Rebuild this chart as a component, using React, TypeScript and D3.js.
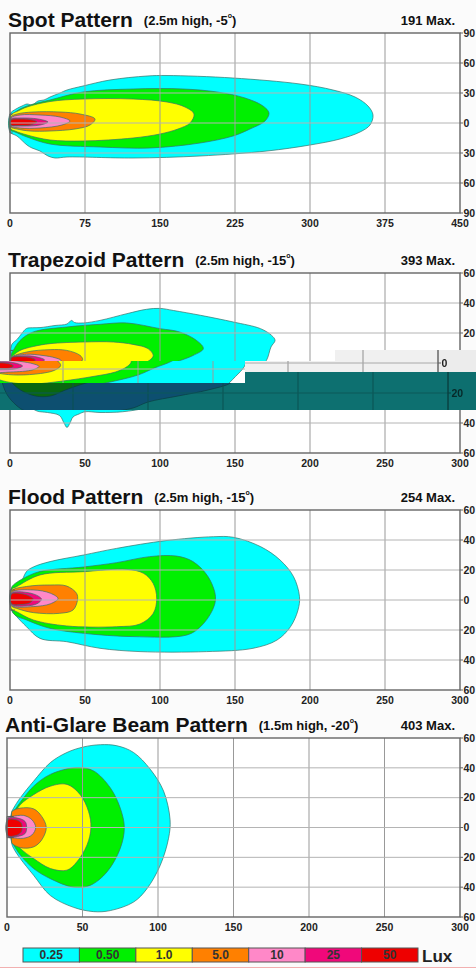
import React from 'react';
import * as d3 from 'd3';

type Pt = [number, number];

const levelLabels = ['0.25', '0.50', '1.0', '5.0', '10', '25', '50'];
const levelColors = ['#00ffff', '#00f000', '#ffff00', '#ff8000', '#ff88c8', '#f0087a', '#ee0000'];

const spotXTicks = [0, 75, 150, 225, 300, 375, 450];
const spotYTicks = [90, 60, 30, 0, -30, -60, -90];
const beamXTicks = [0, 50, 100, 150, 200, 250, 300];
const beamYTicks = [60, 40, 20, 0, -20, -40, -60];

const panelTitles = ['Spot Pattern', 'Trapezoid Pattern', 'Flood Pattern', 'Anti-Glare Beam Pattern'];
const panelHeights = ['2.5m', '2.5m', '2.5m', '1.5m'];
const panelAngles = ['-5', '-15', '-15', '-20'];
const panelMax = [191, 393, 254, 403];

// lamp stub: [x0,yTop],[x1,yBottom]
const spotLamp: Pt[] = [[0, 9], [2.7, -10]];
const trapLamp: Pt[] = [[0, 8.4], [2.2, -1]];
const floodLamp: Pt[] = [[0, 6.7], [3.3, -6.7]];
const antiLamp: Pt[] = [[0, 7.4], [4.4, -6.8]];

// ---------- Spot Pattern contours (m, m) ----------
const spotCyan: Pt[] = [[0, 9], [6, 14], [12, 17], [17, 19], [22, 18], [28, 22], [34, 23], [40, 26], [50, 30], [57, 33], [73, 37], [100, 43], [137, 47], [157, 47.5], [223, 45], [290, 39], [323, 33], [345, 26], [358, 17], [363, 8], [360, -2], [350, -9], [330, -16], [300, -22], [257, -28], [190, -33], [123, -35], [57, -34], [45, -35], [38, -33], [30, -28], [22, -25], [17, -22], [7, -13], [0, -9]];
const spotGreen: Pt[] = [[0, 7], [4, 10], [10, 14], [20, 18], [40, 23], [73, 31], [123, 34], [173, 34], [207, 31], [235, 25], [253, 17], [259, 10], [255, 2], [240, -6], [223, -13], [190, -20], [140, -25], [90, -24], [40, -21], [17, -14], [5, -9], [0, -7]];
const spotYellow: Pt[] = [[1, 8], [8, 12], [17, 16], [40, 21.5], [73, 24], [123, 24], [157, 21], [175, 16], [184, 9], [180, 0], [168, -6], [150, -11], [123, -15], [73, -18], [40, -17], [17, -12], [5, -8], [1, -6]];
const spotOrange: Pt[] = [[1, 6], [7, 9], [23, 11], [50, 11], [70, 9], [85, 4], [80, -2], [65, -6], [40, -8], [20, -8], [7, -6], [1, -4]];
const spotPink: Pt[] = [[1, 5], [10, 8], [30, 8], [50, 6], [60, 2], [52, -2], [30, -5], [10, -5], [1, -3]];
const spotMagenta: Pt[] = [[1, 4], [10, 5], [28, 4], [38, 1], [30, -2], [12, -3], [1, -2]];
const spotRed: Pt[] = [[1, 3], [8, 4], [20, 3.5], [27, 1], [20, -2], [8, -2.5], [1, -2]];
const spotContours = [spotCyan, spotGreen, spotYellow, spotOrange, spotPink, spotMagenta, spotRed];

// ---------- Trapezoid Pattern contours ----------
const trapCyan: Pt[] = [[1, 12], [5, 16], [7.8, 19.6], [11, 23], [15, 23.5], [20, 23.6], [30, 25], [38, 26], [41, 28.4], [43, 27], [49, 26.7], [60, 28.4], [78, 32.9], [91, 35.8], [100, 36.4], [109, 35], [127, 31.8], [149, 27.3], [167, 22.9], [174.4, 18.4], [176.7, 15.1], [174, 10.7], [171, 1.8], [165, -5], [156, -13], [140, -18], [120, -22], [100, -26], [90, -30], [75, -32.5], [60, -33], [50, -32.5], [46, -34], [42, -36], [40, -40], [38, -43], [36, -40], [33, -35], [25, -33], [18, -32], [12, -28], [6, -21], [2, -10], [1, 0]];
const trapGreen: Pt[] = [[1, 6], [2.2, 8.4], [6.7, 15], [15.5, 20.7], [37.8, 24], [60, 25.8], [77.8, 26.7], [100, 22.9], [113, 20.7], [124.4, 15], [128.9, 9.6], [122, 5], [111, 0.7], [100, -4], [80, -9], [60, -13], [45, -18], [35, -22], [25, -22], [15, -18], [8, -12], [3, -6], [1, -2]];
const trapYellow: Pt[] = [[1, 4], [2, 5], [6.7, 8.4], [15.5, 11], [26.7, 12.9], [49, 14], [69, 14], [82, 12.4], [92, 9.6], [95.5, 5], [93, 1.8], [85, -2], [70, -5], [50, -8], [30, -10], [15, -9], [5, -6], [1, -2]];
const trapOrange: Pt[] = [[1, 3.5], [11, 7.3], [26.7, 8.9], [37.8, 8.4], [46.7, 5.1], [48.4, 2.2], [44, -1], [35, -3], [20, -4], [8, -3], [1, -1]];
const trapPink: Pt[] = [[1, 3.5], [11, 5.8], [22, 5], [30, 3.5], [34, 1.8], [30, -0.5], [15, -2], [3, -1.5]];
const trapMagenta: Pt[] = [[1, 3.5], [10, 4.8], [18, 4], [23, 2], [18, 0], [8, -0.5], [1, -0.5]];
const trapRed: Pt[] = [[1, 3.5], [8, 4.2], [14, 3.5], [17, 2], [14, 0.5], [6, 0.5], [1, 0.5]];
const trapContours = [trapCyan, trapGreen, trapYellow, trapOrange, trapPink, trapMagenta, trapRed];

// ---------- Flood Pattern contours ----------
const floodCyan: Pt[] = [[1, 8], [6.7, 11], [11, 19], [15.5, 22], [26.7, 25.6], [49, 30], [71, 34.4], [104, 39.6], [135.6, 42.2], [149, 41.8], [167, 35.6], [180, 26.7], [189, 15.6], [193, 2.2], [192, -6.7], [187, -17.8], [178, -26.7], [162, -32.2], [131, -34.4], [86.7, -34.4], [60, -32.2], [37.8, -27.8], [20, -25.6], [11, -17.8], [4.4, -11], [1, -6.7]];
const floodGreen: Pt[] = [[1, 8], [2.2, 10], [8.9, 14.4], [20, 19], [49, 22], [71, 24.9], [93, 28.9], [111, 29.3], [122, 25.6], [132, 15.6], [137, 2.2], [135, -6.7], [127, -17.8], [118, -23.3], [82, -24.4], [49, -22.2], [26.7, -18.9], [11, -13.3], [2.2, -8.9]];
const floodYellow: Pt[] = [[1, 7], [4.4, 8.9], [20, 16.7], [49, 18.9], [78, 20.4], [89, 17.8], [95.5, 11], [97.8, 1], [95.5, -8.9], [86.7, -16], [71, -17.8], [37.8, -17.3], [15.5, -13.3], [4.4, -7.8], [1, -6]];
const floodOrange: Pt[] = [[1, 6], [11, 9], [26.7, 10], [37.8, 9.3], [44.4, 4.4], [45, 0], [42, -6.7], [33, -8.9], [15.5, -8.4], [4.4, -5.6], [1, -4]];
const floodPink: Pt[] = [[1, 5], [15.5, 6.7], [27, 4.5], [32, 1], [27, -2.5], [15.5, -4.4], [1, -3.5]];
const floodMagenta: Pt[] = [[1, 4.5], [12, 4.9], [19, 2.5], [21, 0.5], [18, -2.5], [10, -4], [1, -3]];
const floodRed: Pt[] = [[1, 4], [9, 4], [14, 2], [15.5, 0.5], [13, -2], [8, -3], [1, -2.5]];
const floodContours = [floodCyan, floodGreen, floodYellow, floodOrange, floodPink, floodMagenta, floodRed];

// ---------- Anti-Glare Beam Pattern contours ----------
const antiCyan: Pt[] = [[3, 10], [4.4, 13], [8.8, 19.9], [17.6, 31], [28.7, 43.5], [39.7, 50.3], [50.7, 54], [61.8, 55.5], [72.8, 54.8], [83.8, 50.3], [94.9, 39], [103.7, 24.4], [108, 5.2], [107, -7.2], [101.5, -25.3], [92.7, -41], [83.8, -50], [68.4, -55.7], [57.4, -56.4], [44, -53.5], [28.7, -45.6], [17.6, -32], [8.8, -20.8], [4.4, -14], [3, -10]];
const antiGreen: Pt[] = [[3, 9], [4.4, 10.8], [11, 19.9], [17.6, 27.7], [28.7, 35.6], [46.3, 40.2], [57.4, 37.9], [68.4, 26.6], [75, 13], [77.7, 0], [75, -14], [66.2, -29.8], [55, -38.8], [44, -40], [28.7, -34.3], [17.6, -27.5], [8.8, -18.5], [4.4, -11.7], [3, -9]];
const antiYellow: Pt[] = [[3, 7.5], [4.4, 8.6], [8.8, 15.3], [17.6, 22], [28.7, 27.7], [39.7, 28.9], [48.5, 22], [54, 10.8], [55.6, 0], [53, -11.7], [46.3, -23], [39.7, -28.6], [28.7, -27.5], [17.6, -20.8], [8.8, -14], [4.4, -8.3], [3, -7]];
const antiOrange: Pt[] = [[3, 9], [3.3, 10.8], [8.8, 13], [17.6, 12.5], [23, 7.4], [26, 0], [23, -8.3], [17.6, -13], [8.8, -13.5], [3.3, -10.6], [3, -9]];
const antiPink: Pt[] = [[1, 7], [3.3, 7.4], [11, 8.1], [16.5, 5.2], [19, 0], [16.5, -5], [11, -7.2], [3.3, -6.8], [1, -6.5]];
const antiMagenta: Pt[] = [[0.5, 6], [7, 6.3], [12, 4], [13, 0], [12, -4], [7, -6], [0.5, -6]];
const antiRed: Pt[] = [[0.5, 5], [6, 5.2], [9.5, 3], [10, 0], [9.5, -3], [6, -5.4], [0.5, -5.4]];
const antiContours = [antiCyan, antiGreen, antiYellow, antiOrange, antiPink, antiMagenta, antiRed];

const FONT = "'Liberation Sans', Arial, Helvetica, sans-serif";

type Layout = {
  left: number; right: number; top: number; bottom: number; titleX: number;
  xMax: number; yMax: number; xTicks: number[]; yTicks: number[];
  contours: Pt[][]; lamp: Pt[];
};

const layouts: Layout[] = [
  { left: 10, right: 460, top: 33, bottom: 213, titleX: 8, xMax: 450, yMax: 90, xTicks: spotXTicks, yTicks: spotYTicks, contours: spotContours, lamp: spotLamp },
  { left: 10, right: 460, top: 273, bottom: 453, titleX: 8, xMax: 300, yMax: 60, xTicks: beamXTicks, yTicks: beamYTicks, contours: trapContours, lamp: trapLamp },
  { left: 10, right: 460, top: 510, bottom: 690, titleX: 8, xMax: 300, yMax: 60, xTicks: beamXTicks, yTicks: beamYTicks, contours: floodContours, lamp: floodLamp },
  { left: 7, right: 460, top: 738, bottom: 917, titleX: 5, xMax: 300, yMax: 60, xTicks: beamXTicks, yTicks: beamYTicks, contours: antiContours, lamp: antiLamp },
];

function Panel({ L, idx, id }: { L: Layout; idx: number; id?: string }) {
  const x = d3.scaleLinear().domain([0, L.xMax]).range([L.left, L.right]);
  const y = d3.scaleLinear().domain([-L.yMax, L.yMax]).range([L.bottom, L.top]);
  const line = d3.line<Pt>().x(d => x(d[0])).y(d => y(d[1])).curve(d3.curveCatmullRomClosed.alpha(0.5));
  const ty = L.top - 6;
  const lampPath = `M${x(L.lamp[1][0])},${y(L.lamp[0][1])}H${x(L.lamp[0][0])}V${y(L.lamp[1][1])}H${x(L.lamp[1][0])}`;
  return (
    <g id={id}>
      {id && <rect x={-20} y={L.top - 45} width={560} height={L.bottom - L.top + 90} fill="#fbfbfb" />}
      <rect x={L.left} y={L.top} width={L.right - L.left} height={L.bottom - L.top} fill="#ffffff" />
      {L.contours.map((pts, i) => (
        <path key={i} d={line(pts) || ''} fill={levelColors[i]} stroke="#3a716a" strokeWidth={0.7} />
      ))}
      <path d={lampPath} fill="none" stroke="#555" strokeWidth={0.9} />
      {L.xTicks.slice(1, -1).map(t => (
        <line key={'gx' + t} x1={x(t)} x2={x(t)} y1={L.top} y2={L.bottom} stroke="#999" strokeWidth={1} />
      ))}
      {L.yTicks.slice(1, -1).map(t => (
        <line key={'gy' + t} x1={L.left} x2={L.right} y1={y(t)} y2={y(t)} stroke="#b4b4b4" strokeWidth={1} />
      ))}
      <rect x={L.left} y={L.top} width={L.right - L.left} height={L.bottom - L.top} fill="none" stroke="#666" strokeWidth={1.4} />
      {L.yTicks.map(t => (
        <g key={'ry' + t}>
          <line x1={L.right} x2={L.right + 3} y1={y(t)} y2={y(t)} stroke="#666" strokeWidth={1} />
          <text x={L.right + 3.5} y={y(t)} dy="0.36em" fontFamily={FONT} fontWeight="bold" fontSize={10.5} fill="#222">{Math.abs(t)}</text>
        </g>
      ))}
      {L.xTicks.map(t => (
        <text key={'bx' + t} x={x(t)} y={L.bottom + 14} textAnchor="middle" fontFamily={FONT} fontWeight="bold" fontSize={10.5} fill="#222">{t}</text>
      ))}
      <text x={L.titleX} y={ty} fontFamily={FONT} fontWeight="bold" fill="#111">
        <tspan fontSize={21}>{panelTitles[idx]}</tspan>
        <tspan fontSize={13} dx={11} dy={-2}>({panelHeights[idx]} high, {panelAngles[idx]}</tspan>
        <tspan fontSize={7} dy={-7}>o</tspan>
        <tspan fontSize={13} dy={7}>)</tspan>
      </text>
      <text x={455} y={ty - 2} textAnchor="end" fontFamily={FONT} fontWeight="bold" fontSize={13} fill="#111">{panelMax[idx]} Max.</text>
    </g>
  );
}

function Legend() {
  const band = d3.scaleBand<string>().domain(levelLabels).range([23, 418]).padding(0);
  const y0 = 948, h = 14;
  return (
    <g>
      {levelLabels.map((l, i) => (
        <g key={l}>
          <rect x={band(l)} y={y0} width={band.bandwidth()} height={h} fill={levelColors[i]} stroke="#555" strokeWidth={1} />
          <text x={(band(l) || 0) + band.bandwidth() / 2} y={y0 + h / 2} dy="0.36em" textAnchor="middle" fontFamily={FONT} fontWeight="bold" fontSize={12} fill="#333">{l}</text>
        </g>
      ))}
      <text x={422} y={y0 + h} fontFamily={FONT} fontWeight="bold" fontSize={17} fill="#222">Lux</text>
    </g>
  );
}

export default function App() {
  return (
    <svg width={476} height={968} viewBox="0 0 476 968" style={{ position: 'absolute', left: 0, top: 0, display: 'block' }}>
      <defs>
        <clipPath id="clipBright"><rect x={0} y={361} width={245} height={22} /></clipPath>
        <clipPath id="clipGray">
          <rect x={335} y={350} width={141} height={11} />
          <rect x={240} y={361} width={236} height={11} />
        </clipPath>
        <clipPath id="clipTeal">
          <rect x={245} y={372} width={231} height={11} />
          <rect x={0} y={383} width={476} height={27} />
        </clipPath>
        <filter id="grayFx" colorInterpolationFilters="sRGB" x="-10%" y="-10%" width="120%" height="120%">
          <feColorMatrix type="matrix" values="0.94 0 0 0 0  0 0.94 0 0 0  0 0 0.94 0 0  0 0 0 1 0" />
        </filter>
        <filter id="tealFx" colorInterpolationFilters="sRGB" x="-10%" y="-10%" width="120%" height="120%">
          <feColorMatrix type="matrix" values="0 0.02 0.01 0 0.02  0.13 0.30 -0.11 0 0.12  0 -0.06 0.38 0 0.12  0 0 0 1 0" />
        </filter>
      </defs>
      <rect x={0} y={0} width={476} height={968} fill="#fbfbfb" />
      <Panel L={layouts[0]} idx={0} />
      <Panel L={layouts[1]} idx={1} id="trapPanel" />
      <Panel L={layouts[2]} idx={2} />
      <Panel L={layouts[3]} idx={3} />
      {/* display glitch bands in the trapezoid panel */}
      <g clipPath="url(#clipGray)" filter="url(#grayFx)">
        <use href="#trapPanel" transform="translate(-22,0)" />
      </g>
      <g clipPath="url(#clipBright)">
        <use href="#trapPanel" transform="translate(-22,6)" />
      </g>
      <g clipPath="url(#clipTeal)" filter="url(#tealFx)">
        <use href="#trapPanel" transform="translate(-12,0)" />
      </g>
      <Legend />
      <line x1={0} x2={476} y1={967.5} y2={967.5} stroke="#f2b0b0" strokeWidth={1} />
    </svg>
  );
}
